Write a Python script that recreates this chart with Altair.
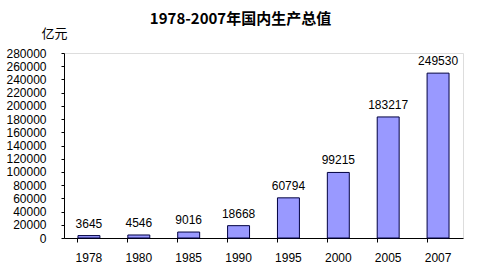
import altair as alt
import pandas as pd

years = ["1978", "1980", "1985", "1990", "1995", "2000", "2005", "2007"]
gdp = [3645, 4546, 9016, 18668, 60794, 99215, 183217, 249530]
y_ticks = list(range(0, 280001, 20000))

df = pd.DataFrame({"year": years, "gdp": gdp})

FONT = "Liberation Sans"

x = alt.X("year:N", sort=years,
          scale=alt.Scale(paddingInner=0.56, paddingOuter=0.28),
          axis=alt.Axis(title=None, labelAngle=0, bandPosition=0, tickSize=4,
                        labelPadding=10, labelFont=FONT, labelFontSize=12,
                        labelColor="black", domainColor="black", tickColor="black",
                        grid=False))
y = alt.Y("gdp:Q", scale=alt.Scale(domain=[0, 280000], nice=False),
          axis=alt.Axis(values=y_ticks, format="d", title="亿元", titleAngle=0,
                        titleX=3, titleY=-20, titleAlign="right", titleBaseline="middle",
                        titleFont="Noto Sans CJK SC", titleFontSize=13,
                        titleFontWeight="normal", titleColor="black",
                        tickSize=3, labelPadding=15, labelFont=FONT, labelFontSize=12,
                        labelColor="black", domainColor="black", tickColor="black",
                        grid=False))

bars = alt.Chart(df).mark_bar(color="#9999FF", stroke="#000040", strokeWidth=1).encode(x=x, y=y)
labels = alt.Chart(df).mark_text(baseline="bottom", dy=-5, font=FONT, fontSize=12,
                                 color="black").encode(x=x, y=y, text=alt.Text("gdp:Q", format="d"))

chart = (bars + labels).properties(
    width=399, height=185,
    title=alt.TitleParams("1978-2007年国内生产总值", font="Noto Sans CJK SC",
                          fontSize=15, fontWeight="bold", color="black",
                          anchor="middle", offset=0, dx=-23),
    autosize=alt.AutoSizeParams(type="none"),
    padding={"left": 64, "top": 53, "right": 14, "bottom": 29},
).configure_view(stroke=None).configure(background="white")

chart.save("out.html", embed_options={"renderer": "svg", "actions": False})
